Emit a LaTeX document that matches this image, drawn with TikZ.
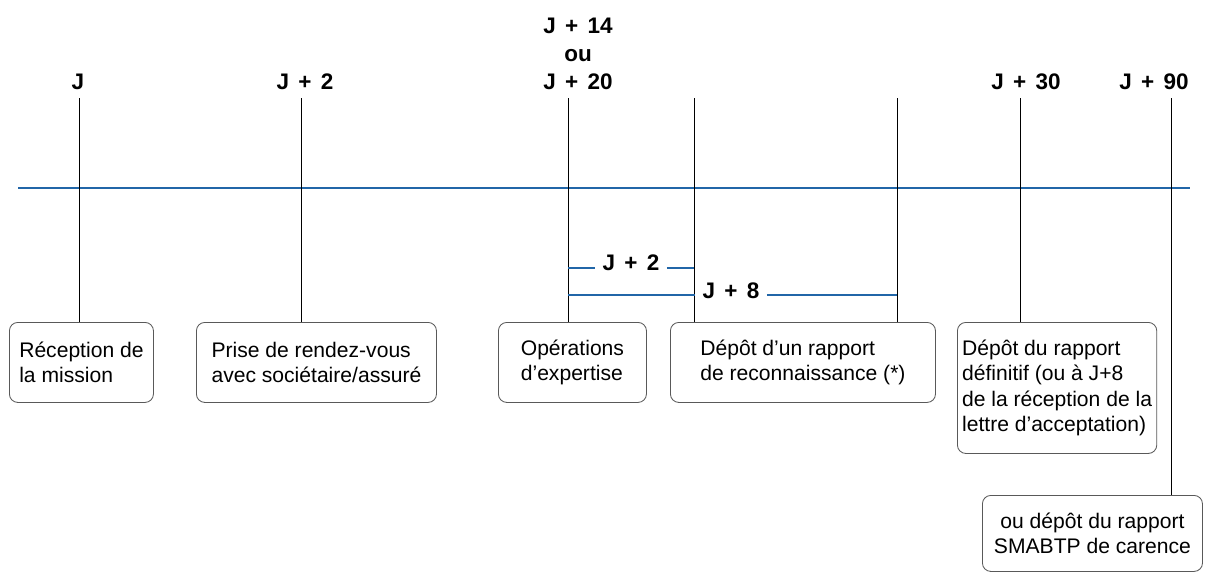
\documentclass[tikz,border=0pt]{standalone}
\usepackage{fontspec}
\setmainfont{Liberation Sans}
\newfontfamily\dayfont[WordSpace=1.5]{Liberation Sans}
\usetikzlibrary{positioning}
\definecolor{lineblue}{RGB}{33,102,168}
\tikzstyle{box}=[draw=black!65, line width=0.6pt, rounded corners=6pt,
  anchor=north west, align=left, minimum height=2cm,
  font=\fontsize{15}{18}\selectfont]
\tikzstyle{day}=[font=\dayfont\bfseries\fontsize{16}{20}\selectfont,
  inner sep=0pt, anchor=south, align=center]
\tikzstyle{tick}=[draw, line width=0.6pt]
\tikzstyle{span}=[draw=lineblue, line width=1.1pt]

\begin{document}
\begin{tikzpicture}[x=0.025cm, y=-0.025cm]
    \useasboundingbox (0,0) rectangle (1205,572);
    \coordinate (a0) at (18,188);
    \coordinate (a1) at (1190,188);
    \draw[span] (a0) -- (a1);

    \node[day] (j0) at (78,90) {J};
    \node[day] (j2) at (305,90) {J + 2};
    \node[day] (j14) at (578,90) {J + 14\\ou\\J + 20};
    \node[day] (j30) at (1026,90) {J + 30};
    \node[day] (j90) at (1154,90) {J + 90};

    \node[box, minimum width=3.6cm] (recep) at (9,322) {Réception de\\la mission};
    \node[box, minimum width=6cm] (rdv) at (196,322) {Prise de rendez-vous\\avec sociétaire/assuré};
    \node[box, minimum width=3.7cm] (oper) at (498,322) {Opérations\\d’expertise};
    \node[box, minimum width=6.625cm] (reco) at (670,322) {Dépôt d’un rapport\\de reconnaissance (*)};
    \node[box, minimum width=4.925cm, minimum height=3.275cm] (defin) at (957,322)
      {Dépôt du rapport\\définitif (ou à J+8\\de la réception de la\\lettre d’acceptation)};
    \node[box, align=center, minimum width=5.5cm, minimum height=1.9cm] (carence) at (982,495)
      {ou dépôt du rapport\\SMABTP de carence};

    \coordinate (t1) at (79,98);
    \coordinate (t2) at (301,98);
    \coordinate (t3) at (568,98);
    \coordinate (t4) at (694,98);
    \coordinate (t5) at (897,98);
    \coordinate (t6) at (1020,98);
    \coordinate (t7) at (1171,98);
    \draw[tick] (t1) -- (t1 |- recep.north);
    \draw[tick] (t2) -- (t2 |- rdv.north);
    \draw[tick] (t3) -- (t3 |- oper.north);
    \draw[tick] (t4) -- (t4 |- reco.north);
    \draw[tick] (t5) -- (t5 |- reco.north);
    \draw[tick] (t6) -- (t6 |- defin.north);
    \draw[tick] (t7) -- (t7 |- carence.north);

    \node[day, anchor=base, inner xsep=5pt] (d2) at (631,270) {J + 2};
    \node[day, anchor=base, inner xsep=5pt] (d8) at (731,298) {J + 8};
    \draw[span] (t3 |- 0,268) -- (d2.west |- 0,268);
    \draw[span] (d2.east |- 0,268) -- (t4 |- 0,268);
    \draw[span] (t3 |- 0,295) -- (d8.west |- 0,295);
    \draw[span] (d8.east |- 0,295) -- (t5 |- 0,295);
\end{tikzpicture}
\end{document}
